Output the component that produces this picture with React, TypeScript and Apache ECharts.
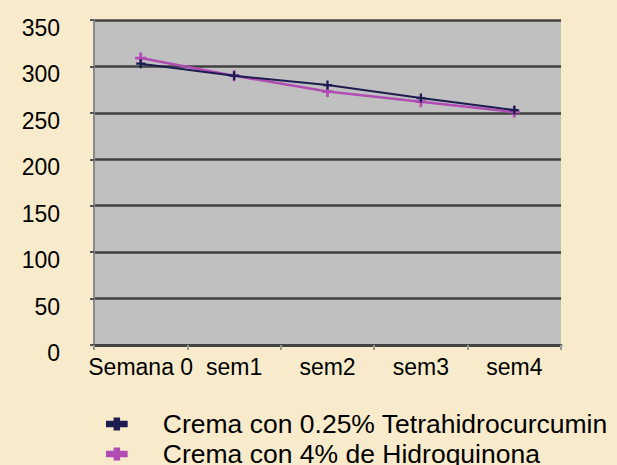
import React, { useEffect, useRef } from "react";
import * as echarts from "echarts";

const categories = ["Semana 0", "sem1", "sem2", "sem3", "sem4"];
const seriesNames = ["Crema con 0.25% Tetrahidrocurcumin", "Crema con 4% de Hidroquinona"];
const tetrahidro = [303, 290, 280, 266, 253];
const hidroquinona = [309, 290, 273, 262, 251];

const plusPath = "path://M0,3H3V0H5V3H8V5H5V8H3V5H0Z";
const legendIcon = "path://M0,3H7V0H13V3H20V9H13V12H7V9H0Z";

export default function App() {
  const ref = useRef<HTMLDivElement>(null);
  useEffect(() => {
    if (!ref.current) return;
    const chart = echarts.init(ref.current, undefined, { renderer: "svg" });
    chart.setOption({
      animation: false,
      backgroundColor: "#f8ebcc",
      textStyle: { fontFamily: "Liberation Sans, Arial, sans-serif" },
      grid: {
        left: 94,
        right: 56,
        top: 20,
        bottom: 120,
        show: true,
        backgroundColor: "#c0c0c0",
        borderWidth: 0,
      },
      legend: {
        orient: "vertical",
        left: 106,
        top: 409,
        height: 80,
        padding: 0,
        itemGap: 0,
        itemWidth: 22,
        itemHeight: 13,
        icon: legendIcon,
        textStyle: { fontSize: 26.5, lineHeight: 30, color: "#000", padding: [0, 0, 0, 30] },
        data: seriesNames,
      },
      xAxis: {
        type: "category",
        data: categories,
        boundaryGap: true,
        axisLine: { show: true, lineStyle: { color: "#444", width: 3 } },
        axisTick: { show: true, length: 5, lineStyle: { color: "#999", width: 2 } },
        axisLabel: { fontSize: 23, color: "#000", margin: 10, interval: 0 },
      },
      yAxis: {
        type: "value",
        min: 0,
        max: 350,
        interval: 50,
        axisLine: { show: true, lineStyle: { color: "#888", width: 2 } },
        axisTick: { show: true, length: 4, lineStyle: { color: "#555", width: 2 } },
        axisLabel: {
          fontSize: 23,
          color: "#000",
          margin: 34,
          verticalAlign: "top",
          lineHeight: 16,
        },
        splitLine: { show: true, lineStyle: { color: "#404040", width: 2.5 } },
      },
      series: [
        {
          name: seriesNames[0],
          type: "line",
          data: tetrahidro,
          symbol: plusPath,
          symbolSize: 9,
          lineStyle: { color: "#1c1c50", width: 2 },
          itemStyle: { color: "#1c1c50" },
          z: 3,
        },
        {
          name: seriesNames[1],
          type: "line",
          data: hidroquinona,
          symbol: plusPath,
          symbolSize: 11,
          lineStyle: { color: "#b04cb4", width: 2.5 },
          itemStyle: { color: "#b04cb4" },
          z: 2,
        },
      ],
    });
    return () => chart.dispose();
  }, []);
  return (
    <div
      ref={ref}
      style={{ width: 617, height: 465, position: "fixed", left: 0, top: 0 }}
    />
  );
}
